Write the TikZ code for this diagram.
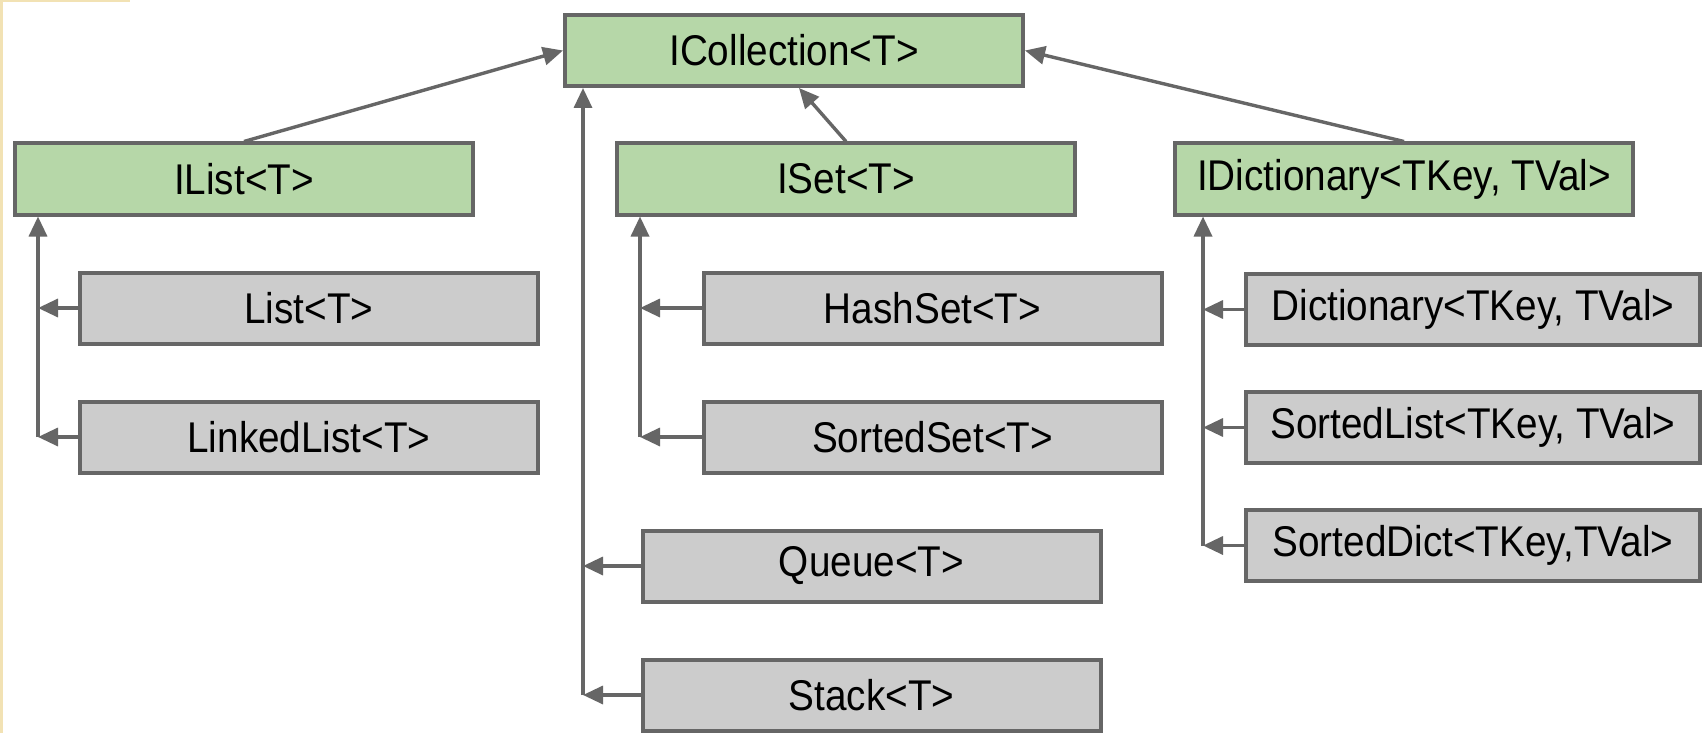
\documentclass[tikz,border=0pt]{standalone}
\usepackage{fontspec}
\setmainfont{Liberation Sans}[FakeStretch=0.9]
\usetikzlibrary{arrows.meta,calc}
\definecolor{linec}{HTML}{666666}
\definecolor{greenf}{HTML}{B6D7A8}
\definecolor{grayf}{HTML}{CCCCCC}
\definecolor{beige}{HTML}{F2E2B4}
\begin{document}
\begin{tikzpicture}[x=0.5pt,y=-0.5pt,
  box/.style={draw=linec, line width=2pt, rectangle, minimum width=229pt, minimum height=35.5pt,
     inner sep=0pt, font=\fontsize{21.5}{24}\selectfont, text=black},
  ibox/.style={box, fill=greenf},
  cbox/.style={box, fill=grayf},
  arr/.style={draw=linec, line width=1.7pt, -{Triangle[length=10pt,width=9pt]}}]
\useasboundingbox (0,0) rectangle (1703,733);
\fill[white] (0,0) rectangle (1703,733);
\fill[beige] (0,0) rectangle (130,2.5);
\fill[beige] (0,0) rectangle (3,733);

\node[ibox] (icol) at (794,50.5) {ICollection<T>};
\node[ibox] (ilist) at (244,179) {IList<T>};
\node[ibox] (iset) at (846,179) {ISet<T>};
\node[ibox] (idict) at (1404,179) {IDictionary<TKey, TVal>};

\node[cbox] (list) at (309,308) {List<T>};
\node[cbox] (llist) at (309,437) {LinkedList<T>};
\node[cbox] (hset) at (932.5,308) {HashSet<T>};
\node[cbox] (sset) at (932.5,437) {SortedSet<T>};
\node[cbox] (queue) at (871.5,566) {Queue<T>};
\node[cbox] (stack) at (871.5,695) {Stack<T>};
\node[cbox, minimum width=227pt] (dict) at (1473,309.5) {Dictionary<TKey, TVal>};
\node[cbox, minimum width=227pt] (slist) at (1473,427.5) {SortedList<TKey, TVal>};
\node[cbox, minimum width=227pt] (sdict) at (1473,545.5) {SortedDict<TKey,TVal>};

% interface inheritance
\draw[arr] (ilist.north) -- (icol.west);
\draw[arr] (idict.north) -- (icol.east);
\draw[arr] (iset.north) -- ([xshift=2.5pt]icol.south);

% ICollection direct implementers
\coordinate (cv) at ([xshift=10pt]icol.south west);
\draw[arr] (cv |- stack.west) -- (cv);
\draw[arr] (queue.west) -- (queue.west -| cv);
\draw[arr] (stack.west) -- (stack.west -| cv);

% IList
\coordinate (lv) at ([xshift=12.5pt]ilist.south west);
\draw[arr] (lv |- llist.west) -- (lv);
\draw[arr] (list.west) -- (list.west -| lv);
\draw[arr] (llist.west) -- (llist.west -| lv);

% ISet
\coordinate (sv) at ([xshift=12.5pt]iset.south west);
\draw[arr] (sv |- sset.west) -- (sv);
\draw[arr] (hset.west) -- (hset.west -| sv);
\draw[arr] (sset.west) -- (sset.west -| sv);

% IDictionary
\coordinate (dv) at ([xshift=15pt]idict.south west);
\draw[arr] (dv |- sdict.west) -- (dv);
\draw[arr] (dict.west) -- (dict.west -| dv);
\draw[arr] (slist.west) -- (slist.west -| dv);
\draw[arr] (sdict.west) -- (sdict.west -| dv);
\end{tikzpicture}
\end{document}
